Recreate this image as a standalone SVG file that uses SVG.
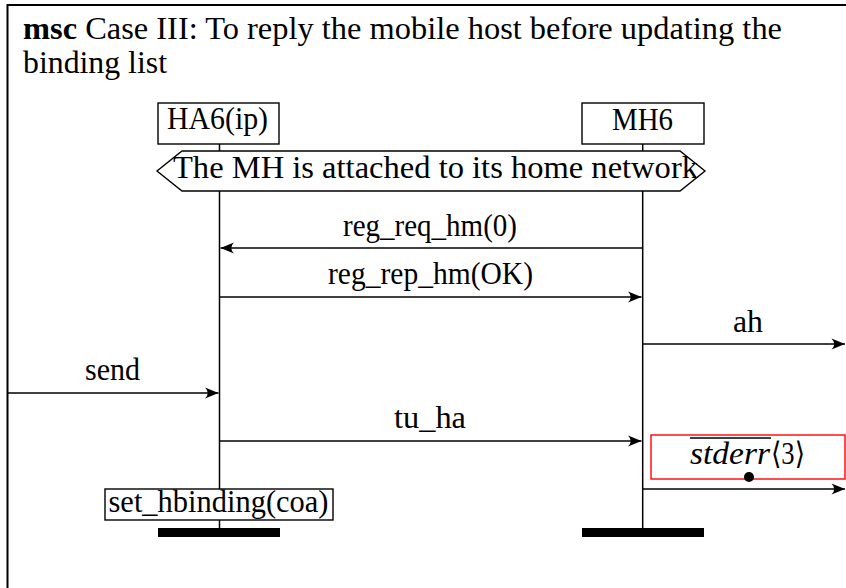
<svg xmlns="http://www.w3.org/2000/svg" width="846" height="588" viewBox="0 0 846 588">
<style>
  text { font-family: "Liberation Serif", "DejaVu Serif", serif; font-size: 31px; fill: #000; }
  .box { fill: #fff; stroke: #000; stroke-width: 1.4; }
  .life { stroke: #000; stroke-width: 1.5; fill: none; }
  .msg { stroke: #000; stroke-width: 1.4; fill: none; marker-end: url(#arr); }
  .bar { fill: #000; }
</style>
<defs>
  <marker id="arr" markerUnits="userSpaceOnUse" markerWidth="16" markerHeight="14" refX="14" refY="7" orient="auto">
    <path d="M14,7 L0.5,1.5 Q6,7 0.5,12.5 Z" fill="#000"/>
  </marker>
</defs>
<rect width="846" height="588" fill="#fff"/>

<g id="frame">
  <path d="M7.5,592 V5 H852" fill="none" stroke="#000" stroke-width="2"/>
  <text x="23" y="38.5" textLength="759" lengthAdjust="spacingAndGlyphs"><tspan font-weight="bold">msc</tspan> Case III: To reply the mobile host before updating the</text>
  <text x="23" y="73" textLength="144" lengthAdjust="spacingAndGlyphs">binding list</text>
</g>

<g id="HA6">
  <line class="life" x1="219.5" y1="144" x2="219.5" y2="528"/>
  <rect class="box" x="158" y="103" width="121" height="41"/>
  <text x="167" y="129" textLength="101" lengthAdjust="spacingAndGlyphs">HA6(ip)</text>
  <rect class="bar" x="158" y="528" width="122" height="9"/>
</g>

<g id="MH6">
  <line class="life" x1="642.7" y1="144" x2="642.7" y2="528"/>
  <rect class="box" x="582" y="103" width="122" height="41"/>
  <text x="612" y="129.5" textLength="61" lengthAdjust="spacingAndGlyphs">MH6</text>
  <rect class="bar" x="582" y="528" width="122" height="9"/>
</g>

<g id="condition">
  <polygon class="box" points="157,171 182,151 680,151 705,171 680,191 182,191"/>
  <text x="173" y="178" textLength="525" lengthAdjust="spacingAndGlyphs">The MH is attached to its home network</text>
</g>

<g id="connectors">
  <line class="msg" x1="642.7" y1="248" x2="220.5" y2="248"/>
  <line class="msg" x1="219.5" y1="297" x2="641.5" y2="297"/>
  <line class="msg" x1="642.7" y1="344" x2="845" y2="344"/>
  <line class="msg" x1="8" y1="393" x2="218.5" y2="393"/>
  <line class="msg" x1="219.5" y1="441" x2="641.5" y2="441"/>
  <line class="msg" x1="642.7" y1="489" x2="845" y2="489"/>
</g>

<g id="labels">
  <text x="343" y="235.5" textLength="174" lengthAdjust="spacingAndGlyphs">reg_req_hm(0)</text>
  <text x="328" y="283.5" textLength="205" lengthAdjust="spacingAndGlyphs">reg_rep_hm(OK)</text>
  <text x="733" y="332" textLength="30" lengthAdjust="spacingAndGlyphs">ah</text>
  <text x="85" y="380" textLength="55" lengthAdjust="spacingAndGlyphs">send</text>
  <text x="394" y="427.5" textLength="72" lengthAdjust="spacingAndGlyphs">tu_ha</text>
</g>

<g id="stderr">
  <rect x="651" y="435" width="194" height="44" fill="#fff" stroke="#f00" stroke-width="1.4"/>
  <line x1="690" y1="438" x2="771" y2="438" stroke="#000" stroke-width="1.5"/>
  <text x="690" y="463.5"><tspan font-style="italic" textLength="80" lengthAdjust="spacingAndGlyphs">stderr</tspan><tspan x="771" textLength="34" lengthAdjust="spacingAndGlyphs">⟨3⟩</tspan></text>
  <circle cx="749" cy="477" r="5" fill="#000"/>
</g>

<g id="set_hbinding">
  <rect class="box" x="105" y="489" width="228" height="31"/>
  <text x="108.5" y="512" textLength="220" lengthAdjust="spacingAndGlyphs">set_hbinding(coa)</text>
</g>
</svg>
